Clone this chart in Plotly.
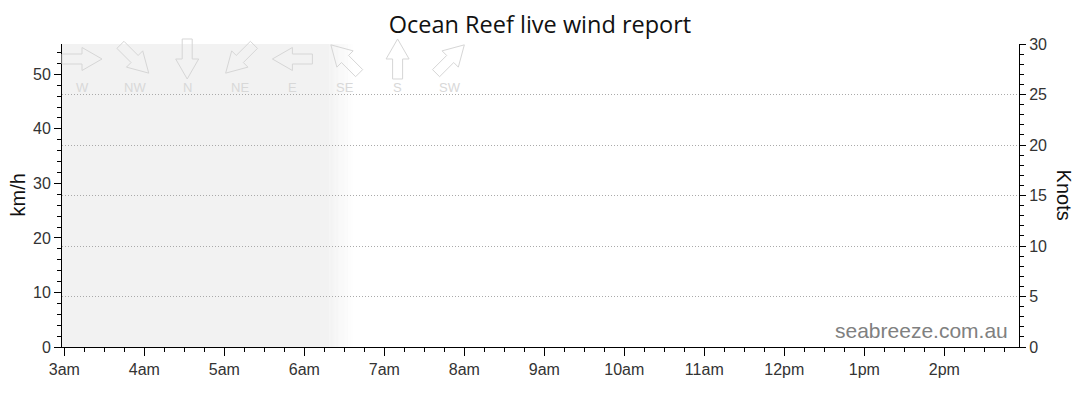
import math
import pandas as pd
import plotly.graph_objects as go

# chart data
day = "2024-01-01"
tick_hours = [3, 4, 5, 6, 7, 8, 9, 10, 11, 12, 13, 14]
tick_labels = ["3am", "4am", "5am", "6am", "7am", "8am", "9am", "10am", "11am", "12pm", "1pm", "2pm"]
range_start = "02:58:17"
range_end = "14:56:02"
night_solid_end = "06:19"
night_fade_end = "06:37"
kmh_ticks = [0, 10, 20, 30, 40, 50]
knot_ticks = [0, 5, 10, 15, 20, 25, 30]
knots_max = 30
kmh_per_knot = 1.852
directions = ["W", "NW", "N", "NE", "E", "SE", "S", "SW"]
# direction the arrow points to (deg, counter-clockwise from east)
arrow_angles = [0, -45, -90, -135, 180, 135, 90, 45]
# no observations yet
obs_time = []
obs_kmh = []

def ts(hhmm):
    return pd.Timestamp(f"{day} {hhmm}")

tick_vals = [ts(f"{h:02d}:00") for h in tick_hours]

fig = go.Figure()
fig.add_trace(go.Scatter(x=obs_time, y=obs_kmh, mode="lines", yaxis="y", showlegend=False))
fig.add_trace(go.Scatter(x=obs_time, y=[], mode="lines", yaxis="y2", showlegend=False))

# night shading with a soft edge
shapes = [dict(type="rect", xref="x", yref="paper", x0=ts(range_start), x1=ts(night_solid_end),
               y0=0, y1=1, fillcolor="#f2f2f2", line_width=0, layer="below")]
t0, t1 = ts(night_solid_end), ts(night_fade_end)
n = 20
for i in range(n):
    a = t0 + (t1 - t0) * i / n
    b = t0 + (t1 - t0) * (i + 1) / n
    shapes.append(dict(type="rect", xref="x", yref="paper", x0=a, x1=b, y0=0, y1=1,
                       fillcolor="#f2f2f2", opacity=1 - (i + 0.5) / n, line_width=0, layer="below"))

# direction key arrows along the top
plot_w = 957
base = [(-20, -5), (0, -5), (0, -11.5), (20, 0), (0, 11.5), (0, 5), (-20, 5)]
annotations = []
for k, (lab, ang) in enumerate(zip(directions, arrow_angles)):
    cx = (82 + k * 52.6 - 62) / plot_w
    r = math.radians(ang)
    pts = [(x * math.cos(r) - y * math.sin(r), x * math.sin(r) + y * math.cos(r)) for x, y in base]
    path = "M" + " L".join(f"{x:.2f},{y:.2f}" for x, y in pts) + " Z"
    shapes.append(dict(type="path", path=path, xref="paper", yref="paper",
                       xsizemode="pixel", ysizemode="pixel", xanchor=cx, yanchor=0.9505,
                       line=dict(color="#d6d6d6", width=1), fillcolor="rgba(0,0,0,0)", layer="above"))
    annotations.append(dict(text=lab, x=cx, y=0.858, xref="paper", yref="paper", showarrow=False,
                            xanchor="center", yanchor="middle",
                            font=dict(family="Liberation Sans, Arial", size=13, color="#d8d8d8")))

annotations += [
    dict(text="seabreeze.com.au", x=0.9906, y=0.056, xref="paper", yref="paper", xanchor="right",
         yanchor="middle", showarrow=False, font=dict(family="Liberation Sans, Arial", size=21, color="#808080")),
    dict(text="km/h", x=(17 - 62) / plot_w, y=0.5, xref="paper", yref="paper", textangle=-90, showarrow=False,
         xanchor="center", yanchor="middle",
         font=dict(family="Liberation Sans, Arial", size=20, color="#111")),
    dict(text="Knots", x=1.048, y=0.5, xref="paper", yref="paper", textangle=90, showarrow=False,
         xanchor="center", yanchor="middle",
         font=dict(family="Liberation Sans, Arial", size=20, color="#111")),
]

# the page puts the figure 8px in from the top-left corner
tickfont = dict(family="Liberation Sans, Arial", size=16, color="#333")
fig.update_layout(
    width=1080, height=414,
    margin=dict(l=54, r=69, t=36, b=75, autoexpand=False),
    paper_bgcolor="white", plot_bgcolor="white",
    title=dict(text="Ocean Reef live wind report", x=(540 - 8) / 1080, xanchor="center",
               y=1 - 16.8 / 414, yanchor="middle",
               font=dict(family="Open Sans", size=23.5, color="#111")),
    xaxis=dict(type="date", range=[ts(range_start), ts(range_end)], tickvals=tick_vals, ticktext=tick_labels,
               showgrid=False, zeroline=False, showline=True, linecolor="black", linewidth=1,
               ticks="outside", ticklen=8, tickcolor="black", tickfont=tickfont,
               minor=dict(dtick=15 * 60 * 1000, ticks="outside", ticklen=4, tickcolor="black", showgrid=False)),
    yaxis=dict(range=[0, knots_max * kmh_per_knot], tickvals=kmh_ticks, showgrid=False, zeroline=False,
               showline=True, linecolor="black", linewidth=1, ticks="outside", ticklen=7, tickcolor="black",
               tickfont=tickfont,
               minor=dict(dtick=2, ticks="outside", ticklen=4, tickcolor="black", showgrid=False)),
    yaxis2=dict(range=[0, knots_max], tickvals=knot_ticks, overlaying="y", side="right", showgrid=True,
                gridcolor="#aaaaaa", griddash="1px,2px", gridwidth=1, zeroline=False,
                showline=True, linecolor="black", linewidth=1, ticks="outside", ticklen=6, tickcolor="black",
                tickfont=tickfont,
                minor=dict(dtick=1, ticks="outside", ticklen=4, tickcolor="black", showgrid=False)),
    shapes=shapes,
    annotations=annotations,
)

fig.write_html("out.html")
